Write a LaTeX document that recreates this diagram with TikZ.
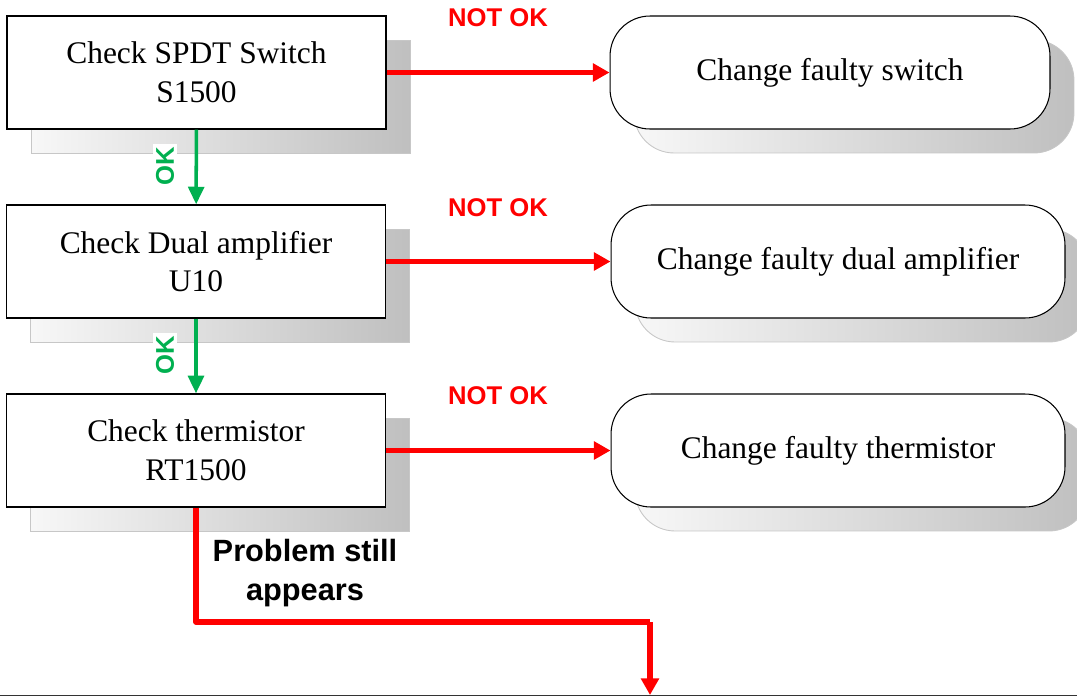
\documentclass[tikz,border=0pt]{standalone}
\usepackage{fontspec}
\setmainfont{Liberation Serif}
\setsansfont{Liberation Sans}
\usepackage{xcolor}
\usepackage{tikz}
\usetikzlibrary{arrows.meta, calc, positioning, shadows}

\definecolor{okgreen}{RGB}{0,176,80}
\definecolor{nogored}{RGB}{255,0,0}

\tikzset{
  dropshade/.style={general shadow={shadow xshift=0.48cm, shadow yshift=-0.48cm,
      left color=black!3, right color=black!25, draw=black!22, line width=0.5pt}},
  checkbox/.style={draw, line width=0.8pt, fill=white, dropshade,
      minimum width=7.58cm, minimum height=2.26cm, inner sep=0pt, align=center,
      font=\fontsize{17.9}{22}\selectfont},
  fixbox/.style={checkbox, rounded corners=0.8cm, line width=0.6pt},
  go/.style={-{Triangle[length=10pt,width=9pt]}, okgreen, line width=2pt},
  nogo/.style={-{Triangle[length=9.5pt,width=10pt]}, nogored, line width=2.9pt},
  oklabel/.style={rotate=90, fill=white, inner sep=1.5pt, text=okgreen,
      font=\sffamily\bfseries\fontsize{14.6}{16}\selectfont},
  notok/.style={inner sep=0pt, text=nogored,
      font=\sffamily\bfseries\fontsize{14.6}{16}\selectfont}
}

\begin{document}
\begin{tikzpicture}[x=0.02cm, y=-0.02cm]
  \useasboundingbox (0,0) rectangle (1077,697);

  % checks on the left
  \node[checkbox] (chk1) at (196.5,72.5) {Check SPDT Switch\\S1500};
  \node[checkbox] (chk2) at (196,261.5) {Check Dual amplifier\\U10};
  \node[checkbox] (chk3) at (196,450.5) {Check thermistor\\RT1500};

  % repairs on the right
  \node[fixbox, minimum width=8.8cm] (fix1) at (830,72.5) {Change faulty switch};
  \node[fixbox, minimum width=9.08cm] (fix2) at (838,261.5) {Change faulty dual amplifier};
  \node[fixbox, minimum width=9.08cm] (fix3) at (838,450.5) {Change faulty thermistor};

  \node[notok] (nok1) at (498,18) {NOT OK};
  \node[notok] (nok2) at (498,208) {NOT OK};
  \node[notok] (nok3) at (498,396) {NOT OK};

  \path[nogo]
    (chk1) edge (fix1)
    (chk2) edge (fix2)
    (chk3) edge (fix3);

  \path[go]
    (chk1) edge (chk2)
    (chk2) edge (chk3);
  \node[oklabel] (ok1) at (165,166) {OK};
  \node[oklabel] (ok2) at (165,355) {OK};

  % still failing
  \coordinate (bend) at (650,622);
  \coordinate (exit) at (650,695);
  \draw[nogo, -, line join=round] (chk3.south) |- (bend);
  \draw[nogo] (bend) -- (exit);
  \node[align=center, font=\sffamily\bfseries\fontsize{17.5}{22.5}\selectfont]
    (still) at (305,573) {Problem still\\appears};

  \coordinate (rulel) at (0,695.5);
  \coordinate (ruler) at (1077,695.5);
  \draw[black!80, line width=0.8pt] (rulel) -- (ruler);
\end{tikzpicture}
\end{document}
